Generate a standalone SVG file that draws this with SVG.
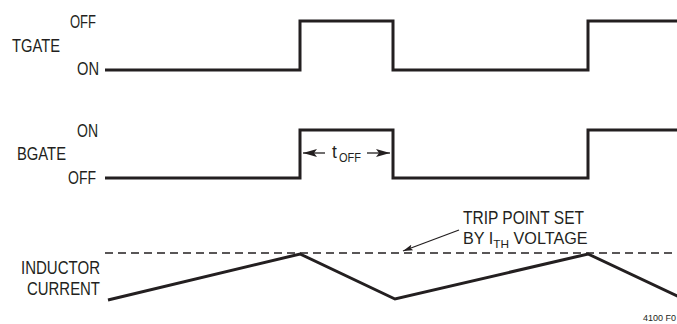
<svg xmlns="http://www.w3.org/2000/svg" width="677" height="324" viewBox="0 0 677 324">
<defs>
<style>
.t{font-family:"Liberation Sans Narrow","Liberation Sans",Arial,sans-serif;font-size:17.5px;fill:#231f20}
.s{font-size:12.5px}
.w{fill:none;stroke:#231f20;stroke-width:3;stroke-linejoin:miter;stroke-linecap:butt}
.d{fill:none;stroke:#231f20;stroke-width:1.3;stroke-dasharray:8 5}
.a{fill:none;stroke:#231f20;stroke-width:1.3}
</style>
<marker id="ah" viewBox="0 0 10 6" refX="10" refY="3" markerWidth="10" markerHeight="6" orient="auto" markerUnits="userSpaceOnUse">
<path d="M0,0 L10,3 L0,6 L2,3 Z" fill="#231f20"/>
</marker>
<marker id="ah2" viewBox="0 0 14 8" refX="14" refY="4" markerWidth="14" markerHeight="8" orient="auto" markerUnits="userSpaceOnUse">
<path d="M0,0 L14,4 L0,8 L3,4 Z" fill="#231f20"/>
</marker>
</defs>
<rect width="677" height="324" fill="#fff"/>
<g id="tgate">
<text class="t" x="96" y="28" text-anchor="end" textLength="26" lengthAdjust="spacingAndGlyphs">OFF</text>
<text class="t" x="12" y="52" textLength="48" lengthAdjust="spacingAndGlyphs">TGATE</text>
<text class="t" x="99" y="75" text-anchor="end" textLength="22" lengthAdjust="spacingAndGlyphs">ON</text>
<path class="w" d="M105,70 H300 V21 H393 V70 H588 V21 H677"/>
</g>
<g id="bgate">
<text class="t" x="98" y="137" text-anchor="end" textLength="21" lengthAdjust="spacingAndGlyphs">ON</text>
<text class="t" x="17" y="160" textLength="49" lengthAdjust="spacingAndGlyphs">BGATE</text>
<text class="t" x="96" y="184" text-anchor="end" textLength="28" lengthAdjust="spacingAndGlyphs">OFF</text>
<path class="w" d="M105,178 H300 V130 H393 V178 H588 V130 H677"/>
</g>
<g id="toff">
<line class="a" x1="325" y1="153" x2="303" y2="153" marker-end="url(#ah2)"/>
<line class="a" x1="367" y1="153" x2="390" y2="153" marker-end="url(#ah2)"/>
<text class="t" x="332" y="158">t</text>
<text class="t s" x="339" y="162" textLength="22" lengthAdjust="spacingAndGlyphs">OFF</text>
</g>
<g id="inductor">
<text class="t" x="100" y="274" text-anchor="end" textLength="79" lengthAdjust="spacingAndGlyphs">INDUCTOR</text>
<text class="t" x="100" y="295" text-anchor="end" textLength="73" lengthAdjust="spacingAndGlyphs">CURRENT</text>
<line class="d" x1="105" y1="253" x2="677" y2="253"/>
<path class="w" d="M108,300 L300,254 L395,299 L588,254 L690,302"/>
</g>
<g id="trip">
<text class="t" x="463" y="224" textLength="121" lengthAdjust="spacingAndGlyphs">TRIP POINT SET</text>
<text class="t" x="463" y="244" style="font-size:16.2px">BY I<tspan style="font-size:11.8px" dy="4">TH</tspan><tspan dy="-4"> VOLTAGE</tspan></text>
<line class="a" x1="459" y1="230" x2="403" y2="251" marker-end="url(#ah)"/>
</g>
<text class="t" x="643" y="321" style="font-size:9px">4100 F0</text>
</svg>
